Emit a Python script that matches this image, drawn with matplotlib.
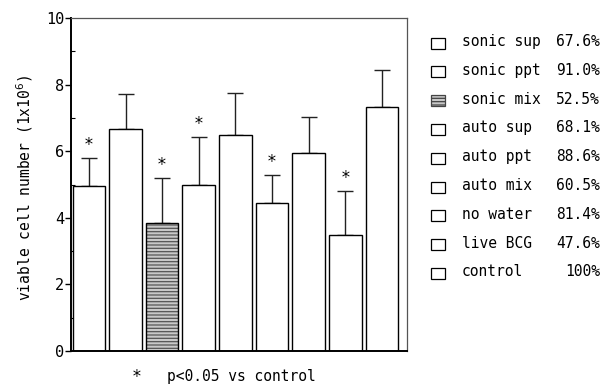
import numpy as np
import matplotlib.pyplot as plt
from matplotlib.patches import Rectangle

# data
groups = ['sonic sup', 'sonic ppt', 'sonic mix', 'auto sup', 'auto ppt',
          'auto mix', 'no water', 'live BCG', 'control']
viability = ['67.6%', '91.0%', '52.5%', '68.1%', '88.6%',
             '60.5%', '81.4%', '47.6%', '100%']
means = [4.95, 6.66, 3.83, 4.98, 6.48, 4.43, 5.96, 3.48, 7.32]
err_top = [5.79, 7.71, 5.21, 6.42, 7.74, 5.28, 7.02, 4.80, 8.45]
signif = [True, False, True, True, False, True, False, True, False]

plt.rcParams['font.family'] = ['DejaVu Sans Mono']
plt.rcParams['hatch.linewidth'] = 0.9

fig = plt.figure(figsize=(6.04, 3.87), dpi=100)
ax = fig.add_axes([0.1175, 0.093, 0.5565, 0.8605])

x = np.arange(len(means))
w = 0.89
errs = np.array(err_top) - np.array(means)

for i in range(len(means)):
    if groups[i] == 'sonic mix':
        ax.bar(x[i], means[i], w, color='#c8c8c8', hatch='-----',
               edgecolor='#555555', linewidth=0, zorder=2)
        ax.bar(x[i], means[i], w, facecolor='none', edgecolor='black',
               linewidth=1.0, zorder=3)
    else:
        ax.bar(x[i], means[i], w, color='white', edgecolor='black',
               linewidth=1.0, zorder=2)

ax.errorbar(x, means, yerr=[np.zeros(len(errs)), errs], fmt='none',
            ecolor='#222222', elinewidth=1.0, capsize=6, capthick=1.0, zorder=1)

for i in range(len(means)):
    if signif[i]:
        ax.text(x[i], err_top[i] + 0.12, '*', ha='center', va='bottom',
                fontsize=12)

ax.set_xlim(-0.49, 8.69)
ax.set_ylim(0, 10)
ax.set_xticks([])
ax.set_yticks([0, 2, 4, 6, 8, 10])
ax.set_yticks([1, 3, 5, 7, 9], minor=True)
ax.tick_params(axis='y', which='major', direction='out', length=4, width=1,
               labelsize=11, pad=1)
ax.tick_params(axis='y', which='minor', direction='in', length=3, width=0.8)
for s in ['top', 'right']:
    ax.spines[s].set_color('#555555')
    ax.spines[s].set_linewidth(0.9)
ax.spines['left'].set_linewidth(1.4)
ax.spines['bottom'].set_linewidth(1.4)

fig.text(0.041, 0.515, 'viable cell number (1x10$^6$)', rotation=90,
         ha='center', va='center', fontsize=10.5)

fig.text(0.227, 0.026, '*', ha='center', va='center', fontsize=12)
fig.text(0.277, 0.026, 'p<0.05 vs control', ha='left', va='center',
         fontsize=10.5)

# legend on the right
y0 = 43
dy = 28.8
H = 387.0
for i, (g, v) in enumerate(zip(groups, viability)):
    yc = y0 + i * dy
    yf = 1 - yc / H
    if g == 'sonic mix':
        r = Rectangle((431 / 604, yf - 5.5 / H), 14 / 604, 11 / H,
                      transform=fig.transFigure, facecolor='#c8c8c8',
                      edgecolor='#444444', hatch='-----', linewidth=0.9)
    else:
        r = Rectangle((431 / 604, yf - 5.5 / H), 14 / 604, 11 / H,
                      transform=fig.transFigure, facecolor='white',
                      edgecolor='black', linewidth=0.9)
    fig.patches.append(r)
    fig.text(462 / 604, yf + 1.5 / H, g, ha='left', va='center', fontsize=10.5)
    fig.text(600 / 604, yf + 1.5 / H, v, ha='right', va='center', fontsize=10.5)

fig.savefig('out.png', dpi=100)
